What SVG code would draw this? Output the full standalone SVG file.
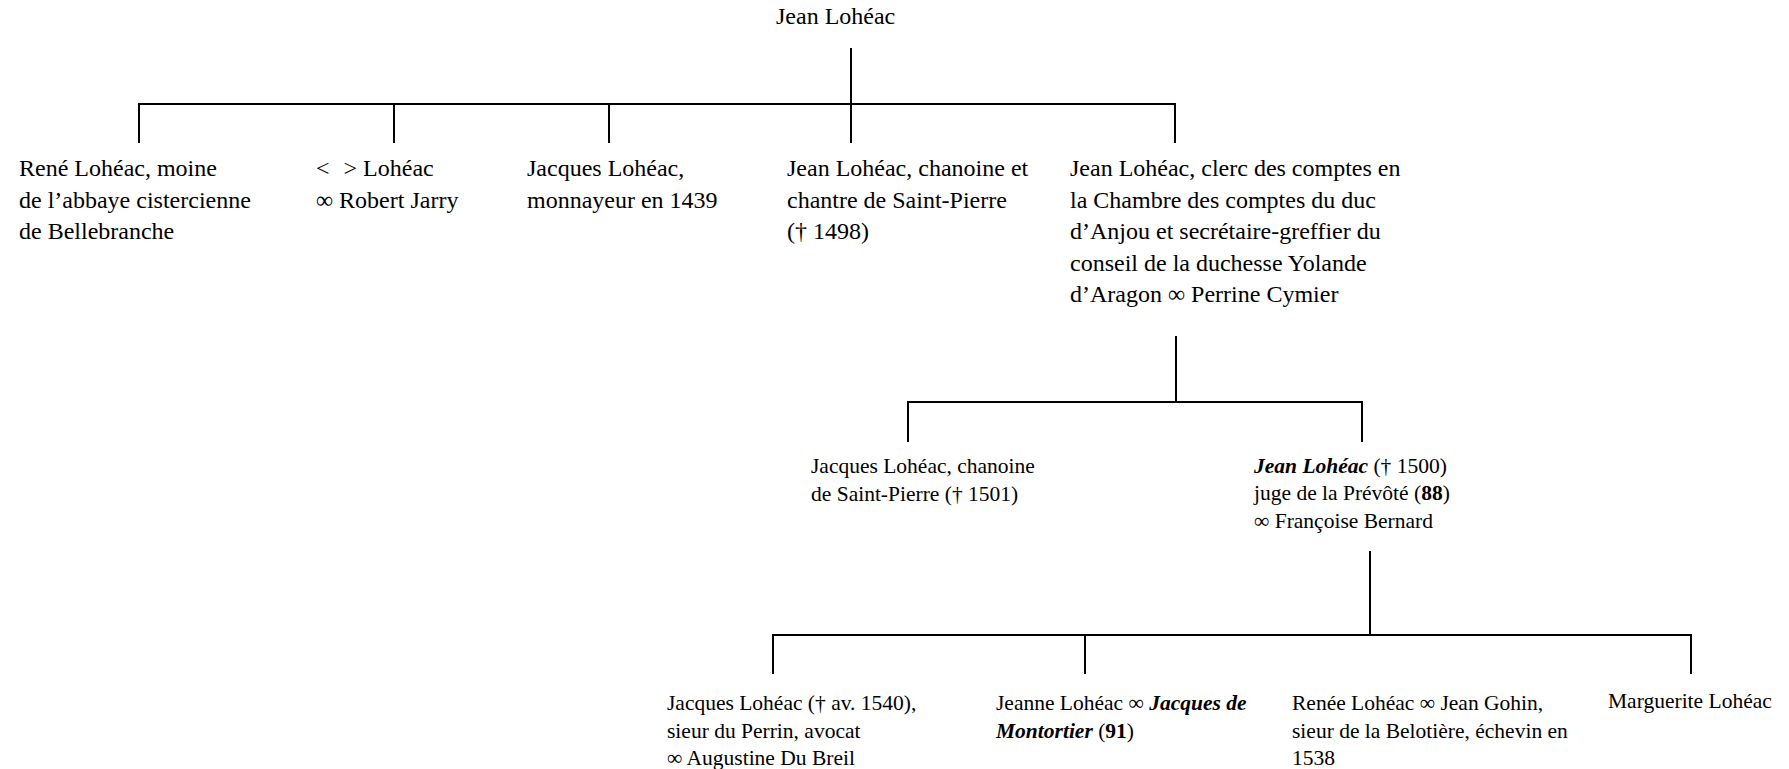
<svg xmlns="http://www.w3.org/2000/svg" width="1789" height="769" viewBox="0 0 1789 769">
<style>
text{font-family:"Liberation Serif","Times New Roman",Times,serif;fill:#000}
.l1{font-size:24px}
.l2{font-size:21.5px}
.bi{font-weight:bold;font-style:italic}
.b{font-weight:bold}
.c{stroke:#000;stroke-width:2;fill:none}
</style>
<rect width="1789" height="769" fill="#fff"/>
<g id="connectors" class="c">
<path d="M851 48V104M139 143V104H1175V143M394 104V143M609 104V143M851 104V143"/>
<path d="M1176 336V402M908 442V402H1362V442"/>
<path d="M1370 551V635M773 674V635H1691V674M1085 635V674"/>
</g>
<g id="n0"><text class="l1" x="776" y="24">Jean Lohéac</text></g>
<g id="n1"><text class="l1" x="19" y="176">René Lohéac, moine</text><text class="l1" x="19" y="207.5">de l’abbaye cistercienne</text><text class="l1" x="19" y="239">de Bellebranche</text></g>
<g id="n2"><text class="l1" x="316" y="176">&lt;<tspan dx="8"> &gt; Lohéac</tspan></text><text class="l1" x="316" y="207.5">∞ Robert Jarry</text></g>
<g id="n3"><text class="l1" x="527" y="176">Jacques Lohéac,</text><text class="l1" x="527" y="207.5">monnayeur en 1439</text></g>
<g id="n4"><text class="l1" x="787" y="176">Jean Lohéac, chanoine et</text><text class="l1" x="787" y="207.5">chantre de Saint-Pierre</text><text class="l1" x="787" y="239">(† 1498)</text></g>
<g id="n5"><text class="l1" x="1070" y="176">Jean Lohéac, clerc des comptes en</text><text class="l1" x="1070" y="207.5">la Chambre des comptes du duc</text><text class="l1" x="1070" y="239">d’Anjou et secrétaire-greffier du</text><text class="l1" x="1070" y="270.5">conseil de la duchesse Yolande</text><text class="l1" x="1070" y="302">d’Aragon ∞ Perrine Cymier</text></g>
<g id="n6"><text class="l2" x="811" y="473">Jacques Lohéac, chanoine</text><text class="l2" x="811" y="500.5">de Saint-Pierre († 1501)</text></g>
<g id="n7"><text class="l2" x="1254" y="472.5"><tspan class="bi">Jean Lohéac</tspan> († 1500)</text><text class="l2" x="1254" y="500">juge de la Prévôté (<tspan class="b">88</tspan>)</text><text class="l2" x="1254" y="527.5">∞ Françoise Bernard</text></g>
<g id="n8"><text class="l2" x="667" y="710">Jacques Lohéac († av. 1540),</text><text class="l2" x="667" y="737.5">sieur du Perrin, avocat</text><text class="l2" x="667" y="765">∞ Augustine Du Breil</text></g>
<g id="n9"><text class="l2" x="996" y="710">Jeanne Lohéac ∞ <tspan class="bi">Jacques de</tspan></text><text class="l2" x="996" y="737.5"><tspan class="bi">Montortier</tspan> (<tspan class="b">91</tspan>)</text></g>
<g id="n10"><text class="l2" x="1292" y="710">Renée Lohéac ∞ Jean Gohin,</text><text class="l2" x="1292" y="737.5">sieur de la Belotière, échevin en</text><text class="l2" x="1292" y="765">1538</text></g>
<g id="n11"><text class="l2" x="1608" y="708">Marguerite Lohéac</text></g>
</svg>
